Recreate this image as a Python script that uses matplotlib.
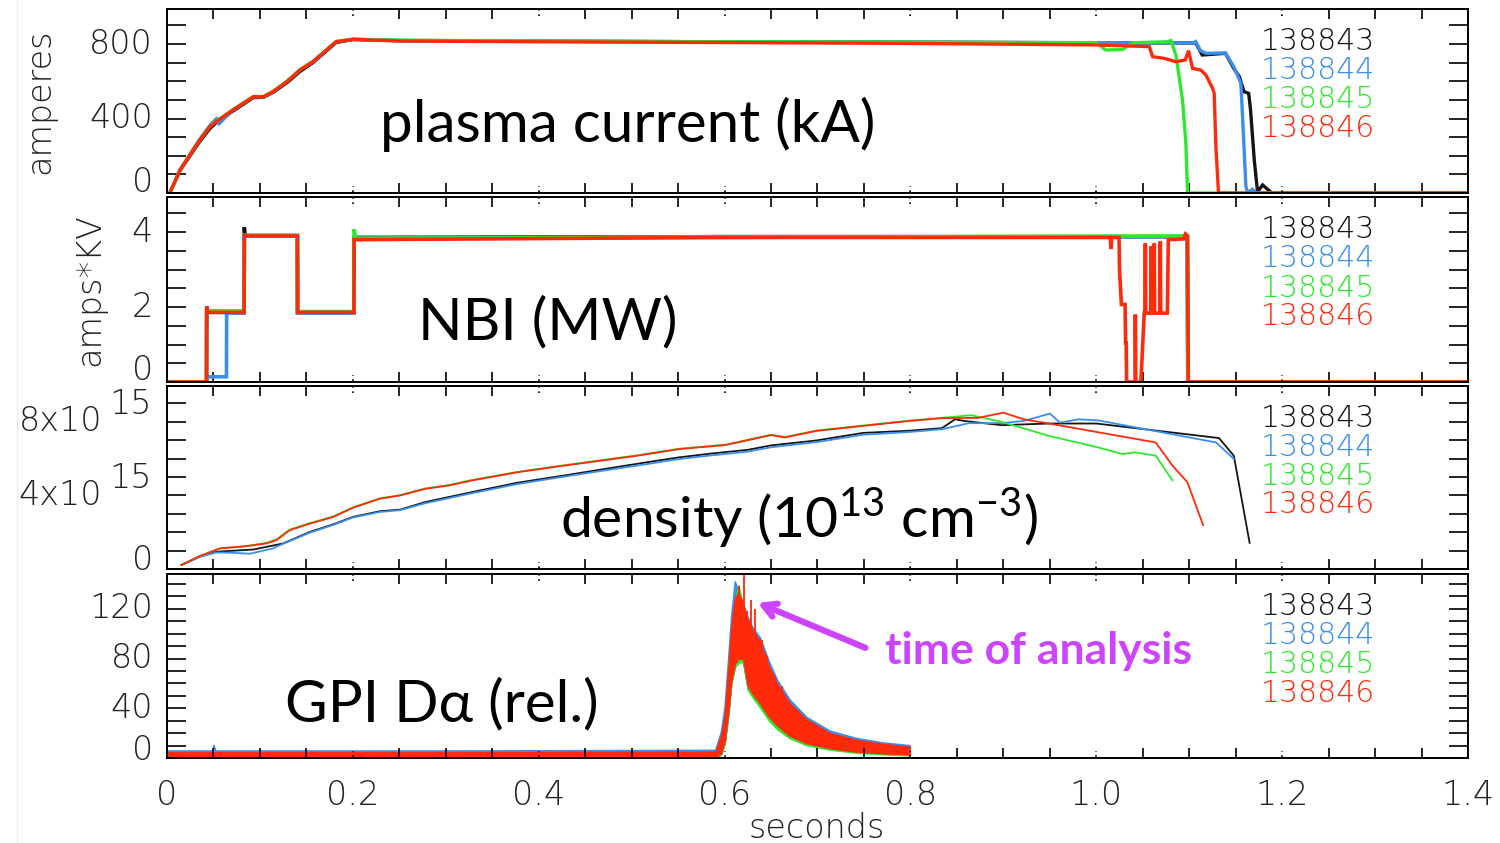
import numpy as np
import matplotlib
matplotlib.use("Agg")
import matplotlib.pyplot as plt
from matplotlib.transforms import blended_transform_factory, offset_copy
from matplotlib.ticker import MultipleLocator
from matplotlib.lines import Line2D

# ---------------- data ----------------
shots = ["138843", "138844", "138845", "138846"]
colors = ["#141414", "#3a8ef0", "#2ee82e", "#ff2a0a"]

x_ticks = [0, 0.2, 0.4, 0.6, 0.8, 1.0, 1.2, 1.4]
x_tick_labels = ["0", "0.2", "0.4", "0.6", "0.8", "1.0", "1.2", "1.4"]

# plasma current (t [s], I)
ip_843 = [(0.003, 0), (0.014, 120), (0.034, 268), (0.046, 345), (0.053, 378), (0.071, 440),
          (0.093, 512), (0.104, 514), (0.114, 540), (0.129, 592), (0.143, 652), (0.157, 700),
          (0.182, 808), (0.200, 824), (0.25, 818), (0.40, 815), (0.60, 812), (0.80, 810),
          (1.00, 806), (1.107, 806), (1.114, 741), (1.139, 750), (1.148, 669), (1.154, 624),
          (1.159, 544), (1.164, 535), (1.166, 446), (1.170, 177), (1.1735, 7), (1.179, 43),
          (1.189, 0), (1.40, 0)]
ip_844 = [(0.003, 0), (0.014, 125), (0.034, 280), (0.046, 362), (0.053, 398), (0.056, 372),
          (0.071, 446), (0.093, 517), (0.104, 517), (0.114, 544), (0.129, 598), (0.143, 660),
          (0.157, 705), (0.182, 812), (0.200, 825), (0.25, 820), (0.40, 816), (0.60, 812),
          (0.80, 810), (1.00, 807), (1.105, 806), (1.107, 813), (1.112, 765), (1.118, 750),
          (1.139, 752), (1.148, 678), (1.1556, 589), (1.1574, 410), (1.161, 34), (1.163, 0),
          (1.168, 20), (1.172, 0), (1.40, 0)]
ip_845 = [(0.003, 0), (0.014, 124), (0.034, 276), (0.046, 356), (0.053, 386), (0.071, 448),
          (0.093, 518), (0.104, 518), (0.114, 545), (0.129, 600), (0.143, 662), (0.157, 707),
          (0.182, 814), (0.200, 826), (0.25, 820), (0.40, 815), (0.60, 812), (0.80, 810),
          (1.00, 807), (1.010, 768), (1.028, 770), (1.040, 807), (1.0757, 812), (1.0803, 818),
          (1.0857, 741), (1.0928, 499), (1.0964, 267), (1.0982, 0), (1.40, 0)]
ip_846 = [(0.003, 0), (0.014, 123), (0.034, 276), (0.046, 356), (0.053, 383), (0.071, 446),
          (0.093, 517), (0.104, 517), (0.114, 544), (0.129, 598), (0.143, 660), (0.157, 705),
          (0.182, 812), (0.200, 825), (0.25, 816), (0.40, 812), (0.60, 808), (0.80, 803),
          (1.00, 795), (1.057, 786), (1.0606, 732), (1.0731, 723), (1.0857, 705), (1.0957, 714),
          (1.0993, 764), (1.1036, 669), (1.1125, 660), (1.1179, 634), (1.1251, 562),
          (1.1269, 535), (1.1287, 249), (1.1315, 0), (1.40, 0)]

# NBI power
nbi_843 = [(0, 0), (0.0425, 0), (0.0427, 1.86), (0.0830, 1.86), (0.0832, 4.13), (0.0840, 3.90),
           (0.1403, 3.90), (0.1405, 1.86), (0.2012, 1.86), (0.2014, 3.86), (0.60, 3.88),
           (1.0980, 3.88), (1.0985, 0), (1.40, 0)]
nbi_844 = [(0, 0), (0.0427, 0), (0.0428, 0.14), (0.0640, 0.14), (0.0642, 1.84), (0.0830, 1.84),
           (0.0832, 3.92), (0.1403, 3.92), (0.1405, 1.84), (0.2012, 1.84), (0.2014, 3.84),
           (0.60, 3.88), (1.0980, 3.88), (1.0985, 0), (1.40, 0)]
nbi_845 = [(0, 0), (0.0425, 0), (0.0427, 1.90), (0.0830, 1.90), (0.0832, 3.90), (0.1403, 3.90),
           (0.1405, 1.88), (0.2012, 1.88), (0.2014, 4.08), (0.2030, 3.84), (0.60, 3.86),
           (1.0980, 3.90), (1.0985, 0), (1.40, 0)]
nbi_846 = [(0, 0), (0.0426, 0), (0.0427, 2.02), (0.0440, 1.86), (0.0830, 1.86), (0.0832, 3.90),
           (0.1403, 3.90), (0.1405, 1.86), (0.2012, 1.86), (0.2014, 3.80), (0.60, 3.86),
           (1.0150, 3.86), (1.0158, 3.55), (1.0165, 3.86), (1.0245, 3.86), (1.0250, 3.00),
           (1.0270, 2.07), (1.0310, 2.07), (1.0315, 1.04), (1.0322, 1.04), (1.0326, 0),
           (1.0418, 0), (1.0420, 1.80), (1.0425, 0), (1.0480, 0), (1.0516, 1.84), (1.0524, 1.84),
           (1.0528, 3.70), (1.0532, 1.84), (1.0585, 1.84), (1.0590, 3.62), (1.0595, 1.84),
           (1.0620, 1.84), (1.0624, 3.70), (1.0628, 1.84), (1.0685, 1.84), (1.0689, 3.75),
           (1.0693, 1.84), (1.0765, 1.84), (1.0775, 3.80), (1.0940, 3.82), (1.0960, 3.95),
           (1.0980, 3.90), (1.0990, 0), (1.40, 0)]

# line-averaged density (units of 1e15)
ne_843 = [(0.0156, 0.22), (0.035, 0.66), (0.053, 0.94), (0.093, 1.06), (0.125, 1.39),
          (0.154, 2.02), (0.179, 2.43), (0.200, 2.83), (0.229, 3.14), (0.251, 3.23),
          (0.278, 3.64), (0.328, 4.18), (0.377, 4.69), (0.427, 5.08), (0.476, 5.48),
          (0.516, 5.80), (0.551, 6.07), (0.586, 6.28), (0.625, 6.48), (0.650, 6.72),
          (0.699, 6.99), (0.749, 7.40), (0.799, 7.52), (0.834, 7.66), (0.848, 8.14),
          (0.858, 8.05), (0.898, 7.82), (0.949, 7.91), (1.000, 7.91), (1.132, 7.12),
          (1.148, 6.16), (1.165, 1.42)]
ne_844 = [(0.0156, 0.22), (0.035, 0.66), (0.053, 0.90), (0.071, 0.88), (0.089, 0.83),
          (0.114, 1.12), (0.123, 1.33), (0.154, 1.98), (0.179, 2.40), (0.200, 2.80),
          (0.229, 3.10), (0.251, 3.20), (0.278, 3.58), (0.328, 4.12), (0.377, 4.62),
          (0.427, 5.02), (0.476, 5.40), (0.516, 5.70), (0.551, 5.98), (0.586, 6.18),
          (0.625, 6.38), (0.650, 6.62), (0.699, 6.90), (0.749, 7.30), (0.799, 7.45),
          (0.834, 7.60), (0.863, 7.93), (0.898, 7.93), (0.922, 8.05), (0.950, 8.45),
          (0.961, 7.96), (0.981, 8.14), (1.002, 8.08), (1.129, 6.88), (1.148, 5.98)]
ne_845 = [(0.0156, 0.22), (0.035, 0.70), (0.057, 1.12), (0.085, 1.24), (0.107, 1.42),
          (0.118, 1.62), (0.132, 2.14), (0.154, 2.50), (0.179, 2.86), (0.200, 3.35),
          (0.229, 3.84), (0.251, 4.02), (0.278, 4.38), (0.303, 4.56), (0.328, 4.84),
          (0.377, 5.28), (0.427, 5.64), (0.476, 5.98), (0.506, 6.18), (0.551, 6.54),
          (0.601, 6.76), (0.650, 7.30), (0.665, 7.18), (0.699, 7.53), (0.749, 7.80),
          (0.799, 8.07), (0.834, 8.22), (0.866, 8.36), (0.898, 8.00), (0.949, 7.24),
          (1.002, 6.61), (1.028, 6.25), (1.042, 6.34), (1.064, 6.16), (1.082, 4.81)]
ne_846 = [(0.0156, 0.22), (0.035, 0.70), (0.057, 1.12), (0.085, 1.24), (0.107, 1.39),
          (0.118, 1.57), (0.132, 2.11), (0.154, 2.47), (0.179, 2.83), (0.200, 3.33),
          (0.229, 3.82), (0.251, 4.00), (0.278, 4.36), (0.303, 4.54), (0.328, 4.81),
          (0.377, 5.26), (0.427, 5.62), (0.476, 5.95), (0.506, 6.16), (0.551, 6.52),
          (0.601, 6.74), (0.650, 7.28), (0.665, 7.15), (0.699, 7.51), (0.749, 7.78),
          (0.799, 8.05), (0.834, 8.20), (0.873, 8.22), (0.900, 8.50), (0.922, 8.14),
          (0.949, 7.91), (1.064, 6.88), (1.082, 5.62), (1.098, 4.72), (1.115, 2.38)]

# GPI D-alpha: time base and upper / lower envelopes of the noisy trace
t_gpi = [0.0, 0.049, 0.050, 0.052, 0.30, 0.590, 0.596, 0.600, 0.604, 0.607, 0.611, 0.615,
         0.620, 0.625, 0.630, 0.638, 0.648, 0.657, 0.670, 0.688, 0.713, 0.742, 0.770, 0.799]
gpi_hi_843 = [2.5, 2.5, 2.5, 2.5, 2.5, 3, 15, 31, 68, 100, 125, 130, 121, 108, 100, 91, 70, 56, 42, 29, 19, 13.5, 10.5, 8.5]
gpi_lo_843 = [0.2, 0.2, 0.2, 0.2, 0.2, 0.2, 3, 12, 36, 60, 74, 78, 78, 56, 50, 42, 31, 24, 17, 11, 7.5, 5, 3.6, 2.8]
gpi_hi_844 = [6.0, 6.0, 10.5, 6.0, 6.0, 6.5, 21, 41, 81, 113, 142, 133, 123, 113, 105, 97, 77, 62, 47, 33, 22, 16, 12.5, 10.3]
gpi_lo_844 = [2.8, 2.8, 2.8, 2.8, 2.8, 2.5, 5, 15, 40, 64, 78, 82, 82, 60, 54, 46, 35, 27, 19, 13, 9, 6, 4.5, 3.5]
gpi_hi_845 = [3.5, 3.5, 3.5, 3.5, 3.5, 4, 14, 30, 66, 98, 124, 139, 120, 106, 98, 90, 70, 56, 42, 29, 19, 13.5, 10.5, 8.5]
gpi_lo_845 = [0.0, 0.0, 0.0, 0.0, 0.0, 0.0, 3, 12, 35, 59, 73, 77, 77, 55, 49, 41, 30, 23, 16, 10.5, 6.8, 4.3, 3.0, 2.2]
gpi_hi_846 = [4.5, 4.5, 4.5, 4.5, 4.5, 5, 17, 33, 71, 103, 128, 133, 124, 111, 103, 94, 73, 59, 44, 31, 20, 14.5, 11.3, 9.0]
gpi_lo_846 = [0.8, 0.8, 0.8, 0.8, 0.8, 0.8, 4, 14, 38, 62, 76, 80, 80, 58, 52, 44, 33, 26, 18, 12, 8, 5.2, 3.9, 3.0]
# isolated red spikes (time, bottom, top)
spk_t_846 = [0.616, 0.621, 0.624, 0.628, 0.633, 0.640, 0.646, 0.654, 0.662]
spk_lo_846 = [80, 80, 70, 60, 55, 50, 40, 30, 25]
spk_hi_846 = [138, 150, 118, 127, 120, 95, 82, 66, 58]

# ---------------- figure ----------------
W, H = 1500, 843
fig = plt.figure(figsize=(W / 100, H / 100), dpi=100)
fig.patch.set_facecolor("white")

TICKFONT = dict(family=["DejaVu Sans"], fontweight=200, fontsize=24)
LEGFONT = dict(family=["DejaVu Sans"], fontweight=200, fontsize=21.5)
TITLEFONT = dict(family=["Lato", "DejaVu Sans"], fontsize=42, color="black")

L, R = 167, 1468
panels_px = [(9, 193), (197, 382), (386, 569), (574, 758)]


def rect(top, bottom):
    return [L / W, 1 - bottom / H, (R - L) / W, (bottom - top) / H]


axes = [fig.add_axes(rect(*p)) for p in panels_px]
ylims = [(0, 988), (0, 4.94), (0, 9.95), (0, 148)]
ysteps = [100, 0.5, 1.0, 10]
ylab_vals = [[0, 400, 800], [0, 2, 4], [0, 4, 8], [0, 40, 80, 120]]
ylab_txt = [["0", "400", "800"], ["0", "2", "4"], ["0", "4x10", "8x10"], ["0", "40", "80", "120"]]
zero_up_px = [11, 11, 9, 8]

for i, ax in enumerate(axes):
    ax.set_xlim(0, 1.4)
    ax.set_ylim(*ylims[i])
    for s in ax.spines.values():
        s.set_linewidth(1.4)
        s.set_color("black")
    ax.xaxis.set_major_locator(plt.FixedLocator(x_ticks))
    ax.xaxis.set_minor_locator(MultipleLocator(0.05))
    ax.tick_params(axis="x", which="minor", direction="in", top=True, bottom=True,
                   length=7, width=1.2, color="black")
    ax.tick_params(axis="x", which="major", direction="in", top=True, bottom=True,
                   length=0, labelbottom=(i == 3), pad=15)
    ax.yaxis.set_major_locator(MultipleLocator(ysteps[i]))
    ax.tick_params(axis="y", which="major", direction="in", left=True, right=True,
                   length=14, width=1.2, labelleft=False)
    # dotted marks at the major x positions
    btr = blended_transform_factory(ax.transData, ax.transAxes)
    for xv in x_ticks[1:-1]:
        for y0, y1 in [(0.006, 0.04), (0.96, 0.994)]:
            ax.plot([xv, xv], [y0, y1], transform=btr, color="black", lw=1.2,
                    ls=(0, (1.0, 2.2)), clip_on=False, zorder=5)
    # y tick labels
    ytr = blended_transform_factory(ax.transAxes, ax.transData)
    for v, s in zip(ylab_vals[i], ylab_txt[i]):
        up = zero_up_px[i] if v == 0 else 0
        tr = offset_copy(ytr, fig=fig, x=0, y=up, units="dots")
        if i == 2 and v != 0:
            ax.text((102 - L) / (R - L), v, s, transform=tr, ha="right", va="center",
                    color="#222222", **TICKFONT)
            tr2 = offset_copy(ytr, fig=fig, x=0, y=17, units="dots")
            ax.text((109 - L) / (R - L), v, "15", transform=tr2, ha="left", va="center",
                    color="#222222", **TICKFONT)
        else:
            ax.text((153 - L) / (R - L), v, s, transform=tr, ha="right", va="center",
                    color="#222222", **TICKFONT)
    # legend of shot numbers
    for k, (s, c) in enumerate(zip(shots, colors)):
        ax.text(0.841, [0.823, 0.665, 0.508, 0.352][k], s, transform=ax.transAxes,
                color=c, ha="left", va="center", **LEGFONT)

axes[3].set_xticklabels(x_tick_labels)
for lab in axes[3].get_xticklabels():
    lab.set_fontfamily("DejaVu Sans")
    lab.set_fontweight(200)
    lab.set_fontsize(24)
    lab.set_color("#222222")

# ---- panel 1: plasma current
ax = axes[0]
for arr, c in zip([ip_843, ip_844, ip_845, ip_846], colors):
    a = np.array(arr)
    ax.plot(a[:, 0], a[:, 1], color=c, lw=2.4, solid_joinstyle="miter")
ax.text((380 - L) / (R - L), 0.275, "plasma current (kA)", transform=ax.transAxes,
        ha="left", va="baseline", **TITLEFONT)
ax.text((40 - L) / (R - L), 0.5, "amperes", transform=ax.transAxes, rotation=90,
        ha="center", va="center", color="#222222", **TICKFONT)

# ---- panel 2: NBI
ax = axes[1]
for arr, c in zip([nbi_843, nbi_844, nbi_845, nbi_846], colors):
    a = np.array(arr)
    ax.plot(a[:, 0], a[:, 1], color=c, lw=2.6, solid_joinstyle="miter")
ax.text((418 - L) / (R - L), 0.23, "NBI (MW)", transform=ax.transAxes, ha="left",
        va="baseline", **TITLEFONT)
ax.text((90 - L) / (R - L), 0.5, "amps*KV", transform=ax.transAxes, rotation=90,
        ha="center", va="center", color="#222222", **TICKFONT)

# ---- panel 3: density
ax = axes[2]
for arr, c in zip([ne_843, ne_844, ne_845, ne_846], colors):
    a = np.array(arr)
    ax.plot(a[:, 0], a[:, 1], color=c, lw=1.3)
ax.text((560 - L) / (R - L), 0.17, r"density (10$^{\mathregular{13}}$ cm$^{\mathregular{-3}}$)",
        transform=ax.transAxes, ha="left", va="baseline", family=["Lato", "DejaVu Sans"],
        fontsize=41, color="black")

# ---- panel 4: GPI
ax = axes[3]
tg = np.array(t_gpi)
for hi, lo, c in zip([gpi_hi_843, gpi_hi_844, gpi_hi_845, gpi_hi_846],
                     [gpi_lo_843, gpi_lo_844, gpi_lo_845, gpi_lo_846], colors):
    ax.fill_between(tg, lo, hi, color=c, lw=1.2, edgecolor=c)
ax.vlines(spk_t_846, spk_lo_846, spk_hi_846, color=colors[3], lw=1.3)
ax.text((285 - L) / (R - L), 0.2, "GPI D\u03b1 (rel.)", transform=ax.transAxes,
        ha="left", va="baseline", **TITLEFONT)
ax.annotate("", xy=(0.6355, 124.8), xytext=(0.7516, 88.6), xycoords="data",
            arrowprops=dict(arrowstyle="->,head_length=0.9,head_width=0.5",
                            color="#cc44ff", lw=4.5, shrinkA=0, shrinkB=0))
ax.text((885 - L) / (R - L), (758 - 664) / 184, "time of analysis", transform=ax.transAxes,
        ha="left", va="baseline", family=["Lato", "DejaVu Sans"], fontweight="bold",
        fontsize=32, color="#cc44ff")

fig.text(817 / W, 1 - 828 / H, "seconds", ha="center", va="center", color="#222222", **TICKFONT)
fig.add_artist(Line2D([17 / W, 17 / W], [0, 1], color="#eeeeee", lw=1.0))

fig.savefig("out.png", dpi=100, facecolor="white")
